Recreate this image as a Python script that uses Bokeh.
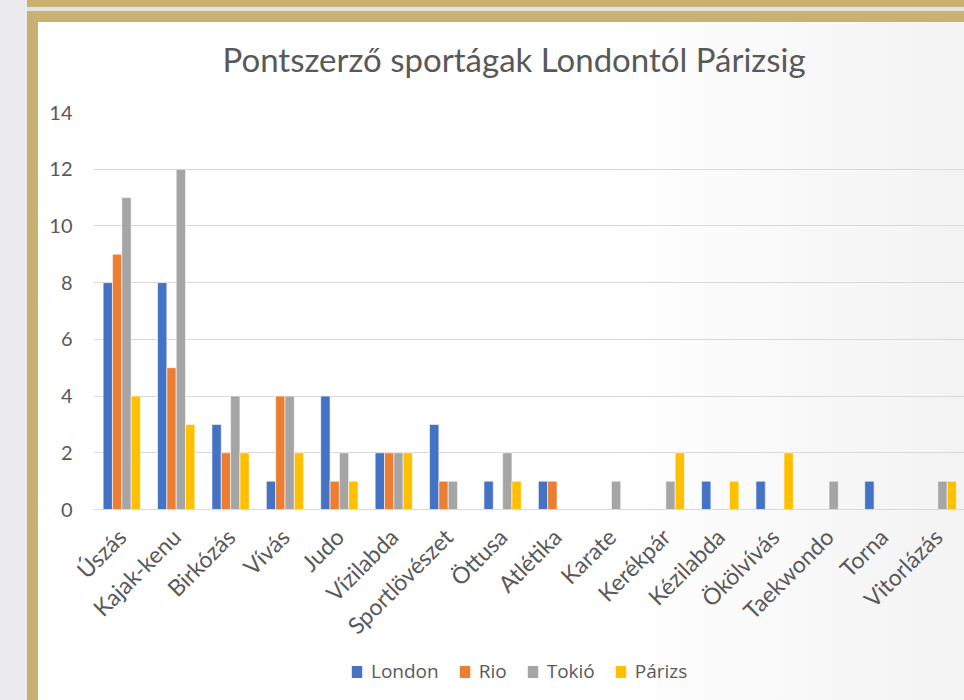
import numpy as np
from bokeh.plotting import figure
from bokeh.models import (Range1d, FixedTicker, Legend, LegendItem, Div,
                          ColumnDataSource, LinearAxis)
from bokeh.layouts import row, column
from bokeh.embed import file_html
from bokeh.resources import INLINE

# ---- data ----
categories = ["Úszás", "Kajak-kenu", "Birkózás", "Vívás", "Judo", "Vízilabda",
              "Sportlövészet", "Öttusa", "Atlétika", "Karate", "Kerékpár",
              "Kézilabda", "Ökölvívás", "Taekwondo", "Torna", "Vitorlázás"]
london = [8, 8, 3, 1, 4, 2, 3, 1, 1, 0, 0, 1, 1, 0, 1, 0]
rio = [9, 5, 2, 4, 1, 2, 1, 0, 1, 0, 0, 0, 0, 0, 0, 0]
tokio = [11, 12, 4, 4, 2, 2, 1, 2, 0, 1, 1, 0, 0, 1, 0, 1]
parizs = [4, 3, 2, 2, 1, 2, 0, 1, 0, 0, 2, 1, 2, 0, 0, 1]
series_names = ["London", "Rio", "Tokió", "Párizs"]
series_values = [london, rio, tokio, parizs]
series_colors = ["#4472C4", "#ED7D31", "#A5A5A5", "#FFC000"]
y_ticks = [0, 2, 4, 6, 8, 10, 12, 14]
title_text = "Pontszerző sportágak Londontól Párizsig"

TEXT = "#595959"
GOLD = "#C9B171"
BG = {"background": "linear-gradient(to right, #ffffff 0%, #ffffff 62%, #f3f3f3 100%)"}

x_idx = np.arange(len(categories))
slot = 0.1715
offsets = [-1.5 * slot, -0.5 * slot, 0.5 * slot, 1.5 * slot]

# ---------------- main chart ----------------
p = figure(width=926, height=630,
           x_range=Range1d(-0.52, 15.49), y_range=Range1d(0, 14),
           output_backend="svg", toolbar_location=None,
           min_border_left=55, min_border_right=0,
           min_border_top=90, min_border_bottom=140,
           title=title_text)

for vals, col, off in zip(series_values, series_colors, offsets):
    src = ColumnDataSource(dict(x=x_idx + off, top=vals))
    p.vbar(x="x", top="top", width=slot, source=src,
           fill_color=col, line_color="white", line_width=0.6)

p.title.text_font = "Lato"
p.title.text_font_size = "33px"
p.title.text_font_style = "normal"
p.title.text_color = TEXT
p.title.align = "left"
p.title.offset = 129
p.title.standoff = 10

# empty spacer axis above the plot area (keeps the title higher)
top_spacer = LinearAxis(ticker=FixedTicker(ticks=[]), axis_line_color=None,
                        major_tick_line_color=None, minor_tick_line_color=None,
                        major_tick_out=0, major_label_standoff=0,
                        axis_label=" ", axis_label_text_font_size="1px",
                        axis_label_standoff=25)
p.add_layout(top_spacer, "above")

ya = p.left[0]
ya.ticker = FixedTicker(ticks=y_ticks)
ya.axis_line_color = None
ya.major_tick_line_color = None
ya.minor_tick_line_color = None
ya.major_label_text_font = "Lato"
ya.major_label_text_font_size = "20px"
ya.major_label_text_color = TEXT
ya.major_label_standoff = 15

xa = p.below[0]
xa.ticker = FixedTicker(ticks=list(range(len(categories))))
xa.major_label_overrides = {i: c for i, c in enumerate(categories)}
xa.axis_line_color = "#D9D9D9"
xa.major_tick_line_color = None
xa.minor_tick_line_color = None
xa.major_label_orientation = np.pi / 4
xa.major_label_text_font = "Lato"
xa.major_label_text_font_size = "23px"
xa.major_label_text_color = TEXT
xa.major_label_standoff = 17

p.xgrid.visible = False
p.ygrid.ticker = FixedTicker(ticks=y_ticks)
p.ygrid.grid_line_color = "#D9D9D9"
p.ygrid.grid_line_width = 1

p.outline_line_color = None
p.background_fill_color = None
p.border_fill_color = None
p.styles = BG

# ---------------- legend strip ----------------
# the same series are drawn here far outside the visible range, only to feed the legend swatches
pl = figure(width=926, height=48, x_range=Range1d(1000, 1001), y_range=Range1d(1000, 1001),
            x_axis_type=None, y_axis_type=None,
            output_backend="svg", toolbar_location=None, min_border=0)
pl.grid.visible = False
pl.outline_line_color = None
pl.background_fill_color = None
pl.border_fill_color = None
pl.styles = BG

items = []
for name, vals, col, off in zip(series_names, series_values, series_colors, offsets):
    src = ColumnDataSource(dict(x=x_idx + off, top=vals))
    r = pl.vbar(x="x", top="top", width=slot, source=src, fill_color=col, line_color=None)
    items.append(LegendItem(label=name, renderers=[r]))

legend = Legend(items=items, orientation="horizontal", location=(257, 16),
                glyph_width=13, glyph_height=15, label_standoff=8, spacing=19,
                padding=0, margin=0, border_line_color=None, background_fill_alpha=0,
                label_text_font="Open Sans", label_text_font_size="19px",
                label_text_color=TEXT)
pl.add_layout(legend)

# ---------------- slide background and gold picture frame ----------------
gray = Div(width=27, height=700, margin=0, styles={"background-color": "#ECECEE"})
top_bar = Div(width=937, height=7, margin=0, styles={"background-color": GOLD})
top_gap = Div(width=937, height=4, margin=0, styles={"background-color": "#E4E4E4"})
top_gold = Div(width=937, height=11, margin=0, styles={"background-color": GOLD})
left_gold = Div(width=11, height=678, margin=0, styles={"background-color": GOLD})

chart = column(p, pl, spacing=0)
layout = row(gray, column(top_bar, top_gap, top_gold,
                          row(left_gold, chart, spacing=0), spacing=0), spacing=0)

open("out.html", "w").write(file_html(layout, INLINE))
